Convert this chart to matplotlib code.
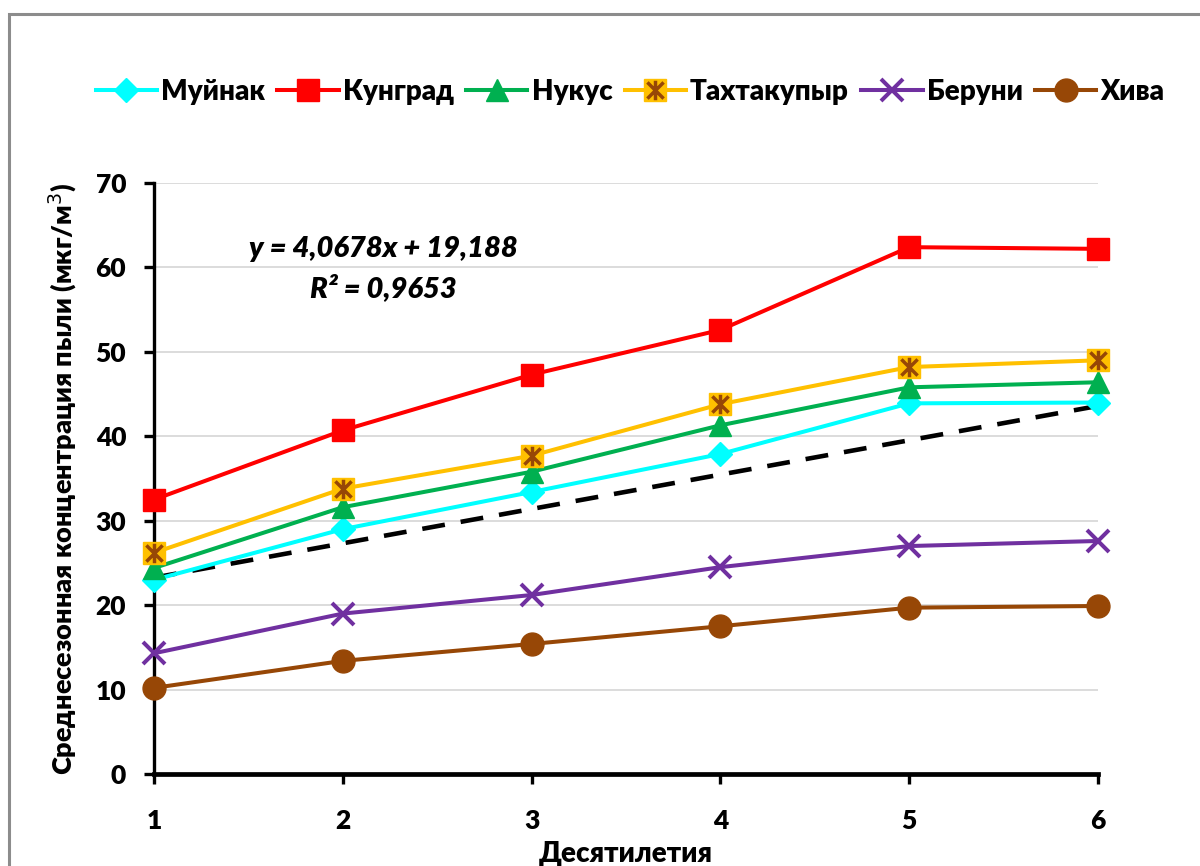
import matplotlib
matplotlib.use("Agg")
import matplotlib.pyplot as plt
from matplotlib.patches import Rectangle
from matplotlib.path import Path
from matplotlib.legend_handler import HandlerTuple
import numpy as np

plt.rcParams['font.family'] = ['Lato', 'Open Sans', 'DejaVu Sans']

decades = [1, 2, 3, 4, 5, 6]
muynak = [23.0, 29.0, 33.4, 37.9, 43.9, 44.0]
kungrad = [32.5, 40.7, 47.3, 52.6, 62.4, 62.2]
nukus = [24.4, 31.6, 35.8, 41.3, 45.8, 46.4]
takhtakupyr = [26.2, 33.8, 37.7, 43.8, 48.2, 49.0]
beruni = [14.3, 19.0, 21.2, 24.5, 27.0, 27.6]
khiva = [10.2, 13.4, 15.4, 17.5, 19.7, 19.9]

trend_slope = 4.0678
trend_intercept = 19.188
eq_text = "y = 4,0678x + 19,188"
r2_text = "R² = 0,9653"

yticks = [0, 10, 20, 30, 40, 50, 60, 70]

W = 'heavy'

fig = plt.figure(figsize=(12, 8.66), dpi=100)
fig.patches.append(Rectangle((9/1200, -0.1), 1.2, 1 - 14/866 + 0.1,
                             transform=fig.transFigure, fill=False,
                             edgecolor='#8c8c8c', linewidth=2.2, zorder=0))

ax = fig.add_axes([154/1200, 1 - 774/866, (1098 - 154)/1200, (774 - 183)/866])

lw = 2.9
star = Path([(-1, -1), (1, 1), (-1, 1), (1, -1), (0, -1.2), (0, 1.2)],
            [Path.MOVETO, Path.LINETO, Path.MOVETO, Path.LINETO, Path.MOVETO, Path.LINETO])

x = np.array(decades)
ax.plot(x, trend_slope * x + trend_intercept, color='black', lw=3.3,
        dashes=(5, 3.5), zorder=3)

h1, = ax.plot(decades, muynak, color='#00FFFF', lw=lw, marker='D', ms=12.5,
              clip_on=False, zorder=4)
h2, = ax.plot(decades, kungrad, color='#FF0000', lw=lw, marker='s', ms=16.5,
              clip_on=False, zorder=4)
h3, = ax.plot(decades, nukus, color='#00B050', lw=lw, marker='^', ms=16,
              clip_on=False, zorder=4)
h4, = ax.plot(decades, takhtakupyr, color='#FFC000', lw=lw, marker='s', ms=16.5,
              clip_on=False, zorder=4)
h4b, = ax.plot(decades, takhtakupyr, color='#974706', lw=0, marker=star, ms=14,
               mew=2.5, clip_on=False, zorder=5)
h5, = ax.plot(decades, beruni, color='#7030A0', lw=lw, marker='x', ms=16, mew=2.9,
              clip_on=False, zorder=4)
h6, = ax.plot(decades, khiva, color='#974706', lw=lw, marker='o', ms=16.5,
              clip_on=False, zorder=4)

ax.set_xlim(1, 6)
ax.set_ylim(0, 70)
ax.set_xticks(decades)
ax.set_yticks(yticks)
ax.yaxis.grid(True, color='#D9D9D9', lw=1.3)
ax.set_axisbelow(True)
for s in ['top', 'right']:
    ax.spines[s].set_visible(False)
ax.spines['left'].set_linewidth(2.4)
ax.spines['bottom'].set_linewidth(3.4)
ax.tick_params(axis='both', direction='out', length=7, width=2.4, labelsize=19)
ax.tick_params(axis='x', pad=18)
ax.tick_params(axis='y', pad=13)
for lab in ax.get_xticklabels() + ax.get_yticklabels():
    lab.set_fontweight(W)

ax.set_xlabel('Десятилетия', fontsize=20, fontweight=W, labelpad=6)
ax.set_ylabel('Среднесезонная концентрация пыли (мкг/м$^3$)', fontsize=19.5,
              fontweight=W, labelpad=12)

fig.text(383/1200, 1 - 249/866, eq_text, fontsize=21, fontweight=W,
         fontstyle='italic', ha='center', va='center')
fig.text(383/1200, 1 - 288/866, r2_text, fontsize=21, fontweight=W,
         fontstyle='italic', ha='center', va='center')

leg = fig.legend([h1, h2, h3, (h4, h4b), h5, h6],
                 ['Муйнак', 'Кунград', 'Нукус', 'Тахтакупыр', 'Беруни', 'Хива'],
                 handler_map={tuple: HandlerTuple(ndivide=1, pad=0)},
                 loc='center', bbox_to_anchor=(630/1200, 1 - 92/866), ncol=6,
                 frameon=False, handlelength=2.2, handletextpad=0.15,
                 columnspacing=0.45, prop={'size': 20, 'weight': W})

fig.savefig('out.png', dpi=100)
